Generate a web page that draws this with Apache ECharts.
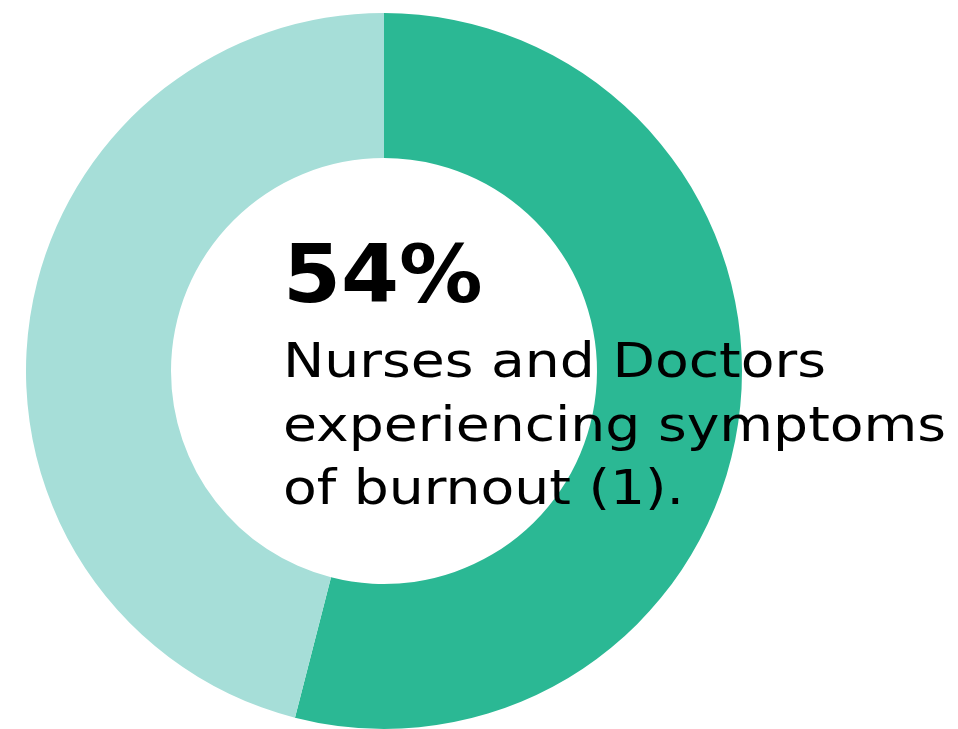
<!DOCTYPE html>
<html>
<head>
<meta charset="utf-8">
<script src="https://cdn.jsdelivr.net/npm/echarts@6/dist/echarts.min.js"></script>
<style>
  html, body { margin: 0; padding: 0; background: #ffffff; }
  #chart { width: 958px; height: 729px; }
</style>
</head>
<body>
<div id="chart"></div>
<script>
// Share of nurses and doctors reporting burnout symptoms
const categories = ['Experiencing symptoms of burnout', 'Not experiencing symptoms'];
const values = [54, 46];
const sliceColors = ['#2bb894', '#a6ded8'];
const captionLines = ['Nurses and Doctors', 'experiencing symptoms', 'of burnout (1).'];

const chart = echarts.init(document.getElementById('chart'), null, { renderer: 'canvas' });

const headline = values[0] + '%';

chart.setOption({
  animation: false,
  backgroundColor: '#ffffff',
  series: [{
    type: 'pie',
    z: 1,
    center: [384, 371],
    radius: [213, 358],
    startAngle: 90,
    clockwise: true,
    silent: true,
    label: { show: false },
    labelLine: { show: false },
    itemStyle: { borderWidth: 0 },
    data: categories.map((name, i) => ({
      name: name,
      value: values[i],
      itemStyle: { color: sliceColors[i] }
    }))
  }],
  graphic: {
    elements: [
      {
        type: 'text',
        z: 100,
        x: 283,
        y: 240,
        scaleX: 1.03,
        style: {
          text: headline,
          font: 'bold 81px "DejaVu Sans"',
          verticalAlign: 'top',
          align: 'left',
          fill: '#000000'
        }
      },
      {
        type: 'text',
        z: 100,
        x: 283,
        y: 333,
        scaleX: 1.15,
        style: {
          text: captionLines.join('\n'),
          font: '400 48px "DejaVu Sans"',
          lineHeight: 63.5,
          verticalAlign: 'top',
          align: 'left',
          fill: '#000000'
        }
      }
    ]
  }
});
</script>
</body>
</html>
